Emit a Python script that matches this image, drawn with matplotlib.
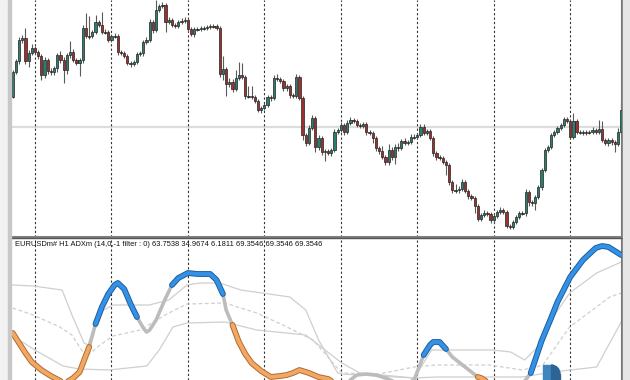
import matplotlib
matplotlib.use("Agg")
import matplotlib.pyplot as plt
from matplotlib.patches import Rectangle, Wedge

# --- price data (screen units, smaller = higher price) ---
first_open = 97
closes = [72, 61, 40, 38, 61, 53, 48, 52, 56, 75,
          60, 71, 72, 68, 55, 60, 70, 55, 52, 60,
          63, 60, 28, 36, 36, 32, 22, 25, 32, 32,
          40, 36, 36, 52, 53, 56, 63, 64, 62, 54,
          53, 42, 40, 22, 30, 10, 6, 5, 22, 20,
          25, 26, 22, 21, 20, 29, 34, 29, 29, 28,
          28, 27, 26, 26, 28, 74, 69, 84, 82, 89,
          78, 75, 77, 96, 96, 97, 101, 110, 108, 105,
          97, 98, 78, 79, 81, 88, 86, 95, 96, 77,
          98, 135, 143, 128, 118, 147, 138, 152, 151, 153,
          150, 132, 130, 125, 132, 123, 120, 121, 125, 126,
          124, 132, 133, 138, 148, 151, 157, 162, 150, 157,
          147, 148, 141, 143, 142, 137, 137, 135, 127, 133,
          131, 138, 153, 157, 158, 162, 165, 182, 190, 190,
          189, 182, 191, 196, 198, 206, 219, 215, 213, 214,
          220, 216, 212, 210, 212, 226, 227, 222, 217, 213,
          213, 192, 202, 203, 197, 187, 170, 150, 147, 135,
          132, 128, 125, 119, 121, 137, 121, 132, 132, 133,
          132, 132, 130, 132, 129, 140, 143, 140, 142, 144,
          132, 110]
upper_wick = [2, 2, 3, 3, 10, 3, 4, 2, 2, 2,
              3, 2, 3, 2, 2, 4, 3, 2, 11, 3,
              2, 2, 3, 15, 20, 2, 7, 2, 13, 3,
              2, 2, 3, 2, 2, 2, 2, 2, 2, 2,
              2, 2, 3, 3, 2, 10, 2, 3, 2, 3,
              2, 2, 2, 3, 3, 2, 2, 2, 2, 2,
              2, 2, 2, 2, 2, 2, 13, 2, 4, 3,
              8, 13, 12, 2, 10, 10, 2, 2, 2, 2,
              2, 2, 3, 4, 2, 2, 2, 2, 2, 3,
              2, 2, 2, 3, 3, 2, 3, 2, 2, 2,
              2, 3, 2, 3, 2, 3, 3, 2, 2, 2,
              2, 2, 2, 2, 2, 2, 5, 2, 6, 3,
              3, 4, 2, 3, 2, 3, 3, 2, 3, 3,
              2, 2, 2, 2, 2, 2, 2, 2, 2, 6,
              3, 3, 2, 2, 2, 2, 2, 2, 3, 2,
              2, 2, 2, 3, 2, 2, 2, 2, 2, 2,
              2, 3, 2, 2, 2, 2, 2, 2, 2, 2,
              2, 2, 2, 2, 2, 2, 8, 2, 2, 2,
              2, 2, 3, 2, 9, 8, 2, 2, 2, 2,
              4, 8]
lower_wick = [1, 2, 3, 3, 3, 6, 2, 2, 3, 5,
              3, 3, 3, 3, 4, 3, 13, 4, 3, 2,
              2, 13, 3, 2, 3, 2, 2, 2, 2, 2,
              2, 2, 2, 3, 2, 2, 2, 3, 2, 2,
              2, 3, 2, 2, 3, 2, 2, 2, 10, 2,
              2, 2, 2, 2, 2, 3, 2, 3, 2, 2,
              2, 2, 2, 2, 2, 3, 6, 12, 3, 3,
              2, 2, 2, 3, 2, 2, 2, 2, 3, 2,
              2, 3, 2, 2, 2, 3, 3, 3, 2, 2,
              2, 5, 3, 2, 2, 5, 3, 3, 9, 2,
              3, 2, 2, 2, 3, 2, 2, 2, 2, 2,
              2, 3, 2, 5, 3, 3, 2, 3, 3, 3,
              7, 3, 2, 2, 2, 2, 2, 2, 2, 2,
              2, 2, 3, 3, 2, 2, 10, 3, 3, 3,
              3, 2, 2, 3, 2, 7, 2, 2, 2, 2,
              3, 3, 2, 2, 2, 2, 2, 2, 2, 2,
              2, 3, 4, 3, 7, 2, 3, 2, 2, 2,
              2, 2, 2, 2, 2, 2, 2, 2, 2, 2,
              2, 2, 2, 2, 2, 2, 2, 3, 3, 8,
              2, 2]
day_starts = [7, 31, 55, 79, 103, 127, 151, 175]
price_line = 127

# --- ADXm indicator (screen units) ---
adx_x = [0, 2, 4, 6, 9, 12, 15, 17, 19, 21,
         24, 26, 28, 30, 32, 33, 35, 37,
         39, 41, 42, 43, 45, 48,
         50, 52, 55, 58, 62, 64,
         66, 67,
         69, 71, 73, 75, 78, 81, 84, 86, 88, 90, 93, 96, 99, 102, 104,
         106, 108, 111, 114, 117, 120, 123, 126,
         129, 131, 132, 134, 136,
         138, 142, 146,
         147, 149, 152, 155,
         158, 161, 162.6,
         164, 166, 169, 171, 175, 179, 183, 185, 187, 189, 191]
adx_y = [333, 343, 353, 362, 370, 376, 381, 382, 378, 372,
         347, 324, 307, 294, 285, 283, 289, 304,
         317, 328, 332, 330, 320, 298,
         285, 278, 273, 274, 274, 280,
         294, 310,
         325, 342, 354, 363, 371, 377, 376, 375, 373, 370, 373, 377, 379, 385, 388,
         380, 375, 374, 375, 378, 382, 384, 380,
         355, 345, 342, 342, 349,
         357, 367, 377,
         378, 382, 388, 392,
         390, 380, 373,
         360, 341, 318, 302, 277, 260, 248, 246, 247, 251, 255]
adx_state = (["dn"] * 10 + ["nt"] * 1 + ["up"] * 7 + ["nt"] * 6 + ["up"] * 6
             + ["nt"] * 2 + ["dn"] * 14 + ["nt"] * 9 + ["up"] * 4 + ["nt"] * 3
             + ["dn"] * 4 + ["nt"] * 3 + ["up"] * 11)

band_hi_x = [0, 6.4, 15.5, 18.6, 22.4, 23.6, 27.4, 31.5, 42.8, 49, 54.7, 58.8, 65, 71.6, 87,
             92, 96, 102, 103.3, 126, 131.5, 135.9, 150.7, 156.3, 160.7, 165.4, 170.1, 174.8, 183.3, 191]
band_hi_y = [285, 286, 290, 315, 343, 345, 312, 305, 305, 300, 285, 283, 283, 290, 297,
             310, 340, 373, 374, 378, 350, 350, 350, 352, 360, 345, 315, 293, 273, 262]
band_mid_x = [0, 6.4, 14.8, 18.6, 23, 27.4, 31.5, 40, 48.4, 54.7, 66.6, 76.6, 84.8, 94.3,
              103.3, 115, 126, 133, 149.7, 160, 166.4, 174.8, 187.4, 191]
band_mid_y = [308, 315, 327, 335, 357, 345, 336, 330, 314, 304, 303, 313, 325, 340,
              373, 374, 367, 365, 365, 370, 365, 327, 297, 293]
band_lo_x = [0, 7, 15.8, 21, 30.2, 42.1, 46, 50.3, 54.7, 66.6, 76.6, 92, 103.3, 109,
             126, 133, 160, 169.5, 183.3, 191]
band_lo_y = [336, 350, 366, 369, 370, 366, 350, 327, 323, 322, 330, 335, 363, 373,
             378, 377, 377, 372, 367, 322]

label = "EURUSDm# H1 ADXm (14,0,-1 filter : 0) 63.7538 34.9674 6.1811 69.3546 69.3546 69.3546"

W, H = 630, 380
fig = plt.figure(figsize=(W / 100, H / 100), dpi=100)
fig.patch.set_facecolor("white")

# window frame strips
fig.patches.append(Rectangle((0, 0), 9 / W, 1, transform=fig.transFigure, color="#f2f2f2", zorder=0))
fig.patches.append(Rectangle((8 / W, 0), 3 / W, 1, transform=fig.transFigure, color="#c8c8c8", zorder=0))
fig.patches.append(Rectangle((623 / W, 0), 7 / W, 1, transform=fig.transFigure, color="#e6e6e6", zorder=0))

ax = fig.add_axes([11 / W, (H - 237) / H, 611 / W, 237 / H])
ax2 = fig.add_axes([11 / W, 0, 611 / W, 142 / H])

n = len(closes)
opens = [first_open] + closes[:-1]
xs = list(range(n))
xlim = (-0.53, 191.25)

# candles
for i in xs:
    o, c = opens[i], closes[i]
    top, bot = min(o, c), max(o, c)
    ax.vlines(i, top - upper_wick[i], bot + lower_wick[i], color="#5a5a5a", lw=0.8, zorder=2)
    col = "#2a7f6e" if c < o else ("#9e3030" if c > o else "#333333")
    ax.bar(i, max(bot - top, 0.8), bottom=top, width=0.7, color=col,
           edgecolor="#222222", linewidth=0.5, zorder=3)

ax.axhline(price_line, color="#dddddd", lw=1.6, zorder=1)
for d in day_starts:
    ax.axvline(d, color="#333333", lw=0.8, ls=(0, (2, 2)), zorder=1)
    ax2.axvline(d, color="#333333", lw=0.8, ls=(0, (2, 2)), zorder=1)

ax.set_xlim(*xlim)
ax.set_ylim(237, 0)
ax2.set_xlim(*xlim)
ax2.set_ylim(380, 238)

# bands
ax2.plot(band_hi_x, band_hi_y, color="#cfcfcf", lw=0.9, zorder=2)
ax2.plot(band_mid_x, band_mid_y, color="#cfcfcf", lw=0.9, ls=(0, (3, 2)), zorder=2)
ax2.plot(band_lo_x, band_lo_y, color="#cfcfcf", lw=0.9, zorder=2)

# ADX line coloured by state
styles = {"up": ("#1d5f9c", "#3391e8", 4.2, 2.8),
          "dn": ("#b06a32", "#f2a862", 4.2, 2.8),
          "nt": (None, "#bcbcbc", 0, 2.6)}
k = 0
while k < len(adx_x) - 1:
    st = adx_state[k]
    j = k
    while j < len(adx_x) - 1 and adx_state[j] == st:
        j += 1
    seg_x = adx_x[k:j + 1]
    seg_y = adx_y[k:j + 1]
    edge, face, lw_e, lw_f = styles[st]
    if edge:
        ax2.plot(seg_x, seg_y, color=edge, lw=lw_e, solid_capstyle="round", zorder=4)
    ax2.plot(seg_x, seg_y, color=face, lw=lw_f, solid_capstyle="round", zorder=5 if edge else 3)
    k = j

for a in (ax, ax2):
    a.set_xticks([])
    a.set_yticks([])
    for s in a.spines.values():
        s.set_visible(False)

ax.spines["left"].set_visible(True)
ax.spines["left"].set_color("#444444")
ax.spines["left"].set_linewidth(1.2)
ax.spines["right"].set_visible(True)
ax.spines["right"].set_color("#777777")
ax.spines["right"].set_linewidth(1.5)
ax.spines["bottom"].set_visible(True)
ax.spines["bottom"].set_color("#808080")
ax.spines["bottom"].set_linewidth(2.2)
ax2.spines["left"].set_visible(True)
ax2.spines["left"].set_color("#444444")
ax2.spines["left"].set_linewidth(1.2)
ax2.spines["right"].set_visible(True)
ax2.spines["right"].set_color("#777777")
ax2.spines["right"].set_linewidth(1.5)
ax2.spines["top"].set_visible(True)
ax2.spines["top"].set_color("#555555")
ax2.spines["top"].set_linewidth(1.0)

fig.text(15 / W, 1 - 245 / H, label, fontsize=5.4, family="Liberation Sans",
         color="#111111", va="center", ha="left")

# watermark logo fragment ("D" shape cut by the window edge)
fig.patches.append(Rectangle((543 / W, 0), 8 / W, 15 / H, transform=fig.transFigure,
                             color="#3f86bf", zorder=10))
fig.patches.append(Rectangle((551 / W, 0), 2 / W, 15 / H, transform=fig.transFigure,
                             color="#2c6494", zorder=10))
logo_ax = fig.add_axes([551 / W, 0, 18 / W, 30 / H])
logo_ax.set_xlim(0, 18)
logo_ax.set_ylim(0, 30)
logo_ax.axis("off")
logo_ax.add_patch(Wedge((0, 6), 9, 0, 90, color="#2c6494"))
logo_ax.add_patch(Rectangle((0, 0), 9, 6, color="#2c6494"))

fig.savefig("out.png", dpi=100)
